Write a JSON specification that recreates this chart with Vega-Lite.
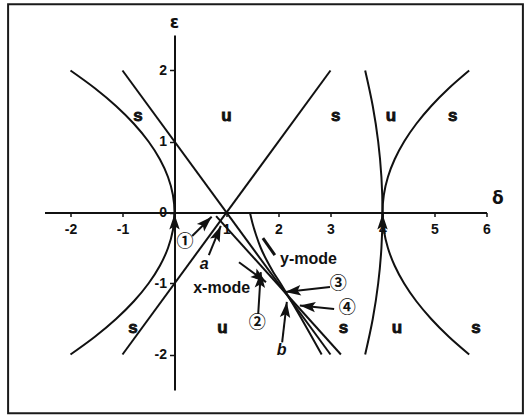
{
  "$schema": "https://vega.github.io/schema/vega-lite/v6.json",
  "width": 442,
  "height": 355,
  "autosize": {"type": "none"},
  "padding": {"left": 44.5, "top": 35, "right": 41.5, "bottom": 25},
  "background": "white",
  "config": {"view": {"stroke": null}},
  "datasets": {
    "frame": [{"d": -3.2, "d2": 6.7, "e": 2.934, "e2": -2.827}],
    "curves": [
      {"c": "p0", "k": 0, "d": -2, "e": 2},
      {"c": "p0", "k": 1, "d": -1.53125, "e": 1.75},
      {"c": "p0", "k": 2, "d": -1.125, "e": 1.5},
      {"c": "p0", "k": 3, "d": -0.78125, "e": 1.25},
      {"c": "p0", "k": 4, "d": -0.5, "e": 1},
      {"c": "p0", "k": 5, "d": -0.28125, "e": 0.75},
      {"c": "p0", "k": 6, "d": -0.125, "e": 0.5},
      {"c": "p0", "k": 7, "d": -0.03125, "e": 0.25},
      {"c": "p0", "k": 8, "d": 0, "e": 0},
      {"c": "p0", "k": 9, "d": -0.03125, "e": -0.25},
      {"c": "p0", "k": 10, "d": -0.125, "e": -0.5},
      {"c": "p0", "k": 11, "d": -0.28125, "e": -0.75},
      {"c": "p0", "k": 12, "d": -0.5, "e": -1},
      {"c": "p0", "k": 13, "d": -0.78125, "e": -1.25},
      {"c": "p0", "k": 14, "d": -1.125, "e": -1.5},
      {"c": "p0", "k": 15, "d": -1.53125, "e": -1.75},
      {"c": "p0", "k": 16, "d": -2, "e": -2},
      {"c": "l1", "k": 0, "d": -1, "e": 2},
      {"c": "l1", "k": 1, "d": 3, "e": -2},
      {"c": "l2", "k": 0, "d": -1, "e": -2},
      {"c": "l2", "k": 1, "d": 3, "e": 2},
      {"c": "lb", "k": 0, "d": 0.8, "e": -0.05},
      {"c": "lb", "k": 1, "d": 3.2, "e": -2},
      {"c": "cc", "k": 0, "d": 1.45, "e": 0},
      {"c": "cc", "k": 1, "d": 1.5, "e": -0.15},
      {"c": "cc", "k": 2, "d": 1.57, "e": -0.32},
      {"c": "cc", "k": 3, "d": 1.66, "e": -0.5},
      {"c": "cc", "k": 4, "d": 1.77, "e": -0.67},
      {"c": "cc", "k": 5, "d": 1.9, "e": -0.84},
      {"c": "cc", "k": 6, "d": 2.04, "e": -1.0},
      {"c": "cc", "k": 7, "d": 2.18, "e": -1.17},
      {"c": "cc", "k": 8, "d": 2.5, "e": -1.57},
      {"c": "cc", "k": 9, "d": 2.83, "e": -2},
      {"c": "p4a", "k": 0, "d": 3.6667, "e": 2},
      {"c": "p4a", "k": 1, "d": 3.8125, "e": 1.5},
      {"c": "p4a", "k": 2, "d": 3.9167, "e": 1},
      {"c": "p4a", "k": 3, "d": 3.9792, "e": 0.5},
      {"c": "p4a", "k": 4, "d": 4, "e": 0},
      {"c": "p4a", "k": 5, "d": 3.9792, "e": -0.5},
      {"c": "p4a", "k": 6, "d": 3.9167, "e": -1},
      {"c": "p4a", "k": 7, "d": 3.8125, "e": -1.5},
      {"c": "p4a", "k": 8, "d": 3.6667, "e": -2},
      {"c": "p4b", "k": 0, "d": 5.6667, "e": 2},
      {"c": "p4b", "k": 1, "d": 5.276, "e": 1.75},
      {"c": "p4b", "k": 2, "d": 4.9375, "e": 1.5},
      {"c": "p4b", "k": 3, "d": 4.651, "e": 1.25},
      {"c": "p4b", "k": 4, "d": 4.4167, "e": 1},
      {"c": "p4b", "k": 5, "d": 4.2344, "e": 0.75},
      {"c": "p4b", "k": 6, "d": 4.1042, "e": 0.5},
      {"c": "p4b", "k": 7, "d": 4.026, "e": 0.25},
      {"c": "p4b", "k": 8, "d": 4, "e": 0},
      {"c": "p4b", "k": 9, "d": 4.026, "e": -0.25},
      {"c": "p4b", "k": 10, "d": 4.1042, "e": -0.5},
      {"c": "p4b", "k": 11, "d": 4.2344, "e": -0.75},
      {"c": "p4b", "k": 12, "d": 4.4167, "e": -1},
      {"c": "p4b", "k": 13, "d": 4.651, "e": -1.25},
      {"c": "p4b", "k": 14, "d": 4.9375, "e": -1.5},
      {"c": "p4b", "k": 15, "d": 5.276, "e": -1.75},
      {"c": "p4b", "k": 16, "d": 5.6667, "e": -2}
    ],
    "arrows": [
      {"id": "n1", "d": 0.34, "e": -0.33, "d2": 0.715, "e2": -0.06},
      {"id": "a", "d": 0.66, "e": -0.6, "d2": 0.89, "e2": -0.19},
      {"id": "xmode", "d": 1.24, "e": -0.7, "d2": 1.76, "e2": -0.98},
      {"id": "n2", "d": 1.61, "e": -1.43, "d2": 1.66, "e2": -0.84},
      {"id": "n3", "d": 2.99, "e": -1.05, "d2": 2.13, "e2": -1.12},
      {"id": "n4", "d": 3.07, "e": -1.36, "d2": 2.41, "e2": -1.31},
      {"id": "b", "d": 2.07, "e": -1.83, "d2": 2.16, "e2": -1.26},
      {"id": "up0", "d": 0, "e": -0.2, "d2": 0, "e2": -0.02},
      {"id": "up4", "d": 4, "e": -0.2, "d2": 4, "e2": -0.02}
    ],
    "bar": [{"d": 1.7, "e": -0.36, "d2": 1.93, "e2": -0.6}],
    "regions": [
      {"t": "s", "d": -0.7, "e": 1.36},
      {"t": "u", "d": 1.0, "e": 1.36},
      {"t": "s", "d": 3.1, "e": 1.36},
      {"t": "u", "d": 4.16, "e": 1.36},
      {"t": "s", "d": 5.35, "e": 1.36},
      {"t": "s", "d": -0.8, "e": -1.62},
      {"t": "u", "d": 0.92, "e": -1.62},
      {"t": "s", "d": 3.25, "e": -1.63},
      {"t": "u", "d": 4.28, "e": -1.62},
      {"t": "s", "d": 5.8, "e": -1.62}
    ],
    "modes": [
      {"t": "y-mode", "d": 2.03, "e": -0.65},
      {"t": "x-mode", "d": 0.36, "e": -1.07}
    ],
    "circled": [
      {"t": "①", "d": 0.2, "e": -0.41},
      {"t": "②", "d": 1.59, "e": -1.56},
      {"t": "③", "d": 3.15, "e": -1.0},
      {"t": "④", "d": 3.32, "e": -1.35}
    ],
    "points": [
      {"t": "a", "d": 0.57, "e": -0.72},
      {"t": "b", "d": 2.06, "e": -1.93}
    ],
    "names": [
      {"t": "ε", "d": 0, "e": 2.67},
      {"t": "δ", "d": 6.22, "e": 0.19}
    ]
  },
  "layer": [
    {
      "data": {"name": "frame"},
      "mark": {"type": "rect", "fill": null, "stroke": "#1a1a1a", "strokeWidth": 2, "clip": false},
      "encoding": {
        "x": {"field": "d", "type": "quantitative", "title": null, "scale": {"domain": [-2.5, 6], "nice": false, "zero": false},
          "axis": {
            "values": [-2, -1, 1, 2, 3, 4, 5, 6],
            "offset": -177.5,
            "title": null,
            "grid": false,
            "domainColor": "#111",
            "domainWidth": 2,
            "tickColor": "#111",
            "tickWidth": 1.5,
            "tickSize": 4,
            "labelPadding": 6,
            "labelFont": "Liberation Sans",
            "labelFontWeight": "bold",
            "labelFontSize": 14,
            "labelColor": "#111",
            "labelFlush": false,
            "labelOverlap": false,
            "labelExpr": "'' + datum.value"
          }
        },
        "x2": {"field": "d2"},
        "y": {"field": "e", "type": "quantitative", "title": null, "scale": {"domain": [-2.5, 2.5], "nice": false, "zero": false},
          "axis": {
            "values": [-2, -1, 0, 1, 2],
            "offset": -130,
            "title": null,
            "grid": false,
            "domainColor": "#111",
            "domainWidth": 2,
            "tickColor": "#111",
            "tickWidth": 1.5,
            "tickSize": 5,
            "labelPadding": 3,
            "labelFont": "Liberation Sans",
            "labelFontWeight": "bold",
            "labelFontSize": 14,
            "labelColor": "#111",
            "labelOverlap": false,
            "labelFlush": false,
            "labelExpr": "'' + datum.value"
          }
        },
        "y2": {"field": "e2"}
      }
    },
    {
      "data": {"name": "curves"},
      "mark": {"type": "line", "color": "#111", "strokeWidth": 2, "interpolate": "catmull-rom"},
      "encoding": {
        "x": {"field": "d", "type": "quantitative", "title": null},
        "y": {"field": "e", "type": "quantitative", "title": null},
        "detail": {"field": "c"},
        "order": {"field": "k", "type": "quantitative"}
      }
    },
    {
      "data": {"name": "bar"},
      "mark": {"type": "rule", "color": "#111", "strokeWidth": 3},
      "encoding": {
        "x": {"field": "d", "type": "quantitative", "title": null},
        "y": {"field": "e", "type": "quantitative", "title": null},
        "x2": {"field": "d2"},
        "y2": {"field": "e2"}
      }
    },
    {
      "data": {"name": "arrows"},
      "mark": {"type": "rule", "color": "#111", "strokeWidth": 2},
      "encoding": {
        "x": {"field": "d", "type": "quantitative", "title": null},
        "y": {"field": "e", "type": "quantitative", "title": null},
        "x2": {"field": "d2"},
        "y2": {"field": "e2"}
      }
    },
    {
      "data": {"name": "arrows"},
      "transform": [
        {"calculate": "atan2((datum.d2 - datum.d) * 52, (datum.e2 - datum.e) * 71) * 180 / PI", "as": "heading"}
      ],
      "mark": {"type": "point", "filled": true, "color": "#111", "opacity": 1, "size": 170, "strokeWidth": 0,
        "shape": "M0,0L-0.8,2.4L0,1.9L0.8,2.4Z"},
      "encoding": {
        "x": {"field": "d2", "type": "quantitative", "title": null},
        "y": {"field": "e2", "type": "quantitative", "title": null},
        "angle": {"field": "heading", "type": "quantitative", "scale": null}
      }
    },
    {
      "data": {"name": "regions"},
      "mark": {"type": "text", "font": "Liberation Sans", "fontWeight": "bold", "fontSize": 17, "color": "#111", "stroke": "#111", "strokeWidth": 0.8, "align": "center", "baseline": "middle"},
      "encoding": {
        "x": {"field": "d", "type": "quantitative", "title": null},
        "y": {"field": "e", "type": "quantitative", "title": null},
        "text": {"field": "t"}
      }
    },
    {
      "data": {"name": "modes"},
      "mark": {"type": "text", "font": "Liberation Sans", "fontWeight": "bold", "fontSize": 16, "color": "#111", "align": "left", "baseline": "middle"},
      "encoding": {
        "x": {"field": "d", "type": "quantitative", "title": null},
        "y": {"field": "e", "type": "quantitative", "title": null},
        "text": {"field": "t"}
      }
    },
    {
      "data": {"name": "circled"},
      "mark": {"type": "text", "font": "Noto Sans CJK JP", "fontWeight": "bold", "fontSize": 17, "color": "#111", "align": "center", "baseline": "middle"},
      "encoding": {
        "x": {"field": "d", "type": "quantitative", "title": null},
        "y": {"field": "e", "type": "quantitative", "title": null},
        "text": {"field": "t"}
      }
    },
    {
      "data": {"name": "points"},
      "mark": {"type": "text", "font": "Liberation Sans", "fontStyle": "italic", "fontWeight": "bold", "fontSize": 16, "color": "#111", "align": "center", "baseline": "middle"},
      "encoding": {
        "x": {"field": "d", "type": "quantitative", "title": null},
        "y": {"field": "e", "type": "quantitative", "title": null},
        "text": {"field": "t"}
      }
    },
    {
      "data": {"name": "names"},
      "mark": {"type": "text", "font": "DejaVu Sans", "fontWeight": "bold", "fontSize": 17, "color": "#111", "align": "center", "baseline": "middle"},
      "encoding": {
        "x": {"field": "d", "type": "quantitative", "title": null},
        "y": {"field": "e", "type": "quantitative", "title": null},
        "text": {"field": "t"}
      }
    }
  ]
}
